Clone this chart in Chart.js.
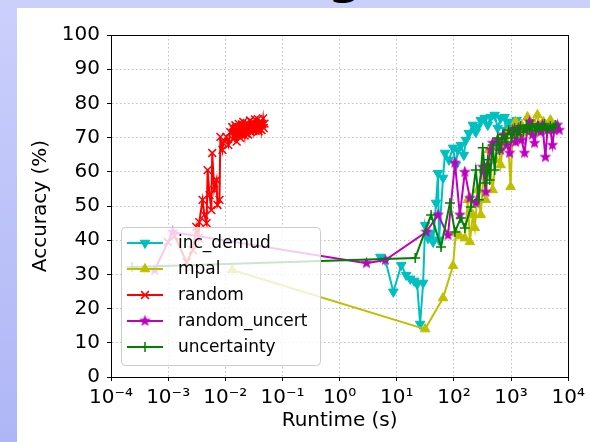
<!DOCTYPE html>
<html>
<head>
<meta charset="utf-8">
<title>Accuracy vs Runtime</title>
<script src="https://cdn.jsdelivr.net/npm/chart.js@4.4.1/dist/chart.umd.min.js"></script>
<style>
    html, body { margin: 0; padding: 0; }
    body {
        width: 590px;
        height: 442px;
        overflow: hidden;
        position: relative;
        background: linear-gradient(to bottom, #cbd0fb, #aeb6f6);
        font-family: 'DejaVu Sans', sans-serif;
    }
    #panel { position: absolute; left: 17px; top: 8px; right: 0; bottom: 0; background: #fff; }
    #slideTitle {
        position: absolute; left: 328px; top: -48px;
        font-size: 48px; line-height: 1; font-weight: bold; color: #000;
    }
    #chart { position: absolute; left: 0; top: 0; }
</style>
</head>
<body>
<div id="slideTitle">g</div>
<div id="panel"></div>
<canvas id="chart" width="590" height="442"></canvas>
<script>
// Eixos
const xTickValues = [1e-4, 1e-3, 1e-2, 1e-1, 1, 10, 100, 1000, 10000];
const xTickLabels = ['10⁻⁴', '10⁻³', '10⁻²', '10⁻¹', '10⁰', '10¹', '10²', '10³', '10⁴'];
const seriesNames = ['inc_demud', 'mpal', 'random', 'random_uncert', 'uncertainty'];

// inc_demud
const incDemudTime = [5.16, 6.3, 8.7, 12.0, 14.6, 17.2, 20.2, 22.7, 25.6, 28.9, 31.3, 35.3, 39.8, 43.2,
    48.6, 52.7, 54.8, 64.4, 69.7, 81.8, 96.2, 108, 117, 132, 149, 162, 182, 214, 241, 261, 295, 346,
    390, 440, 516, 582, 656, 771, 802, 905, 1062, 1247];
const incDemudAcc = [35.1, 34.2, 24.9, 32.7, 29.8, 28.7, 28.1, 27.2, 15.5, 27.5, 44.4, 40.6, 42.1, 39.5,
    50.9, 59.6, 40.1, 58.2, 65.5, 63.5, 67.0, 62.0, 66.4, 67.8, 64.9, 69.3, 71.3, 73.7, 71.6, 73.1, 75.1, 75.7,
    73.7, 76.0, 76.6, 72.8, 75.7, 76.0, 72.2, 74.6, 73.7, 75.1];

// mpal
const mpalTime = [0.0132, 31.3, 64.4, 96.2, 108, 127, 155, 175, 190, 214, 232, 261, 295, 333, 361, 406,
    476, 537, 582, 656, 741, 869, 980, 1062, 1197, 1350, 1523, 1718, 1936, 2183, 2462, 2890, 3258,
    3673, 4314, 4864, 5714];
const mpalAcc = [31.3, 14.0, 23.1, 32.5, 42.1, 41.2, 40.6, 51.8, 39.5, 47.4, 43.6, 54.7, 47.4, 60.5, 51.8, 66.4,
    54.7, 63.5, 69.3, 62.0, 69.3, 71.6, 55.6, 72.2, 74.6, 70.8, 73.7, 71.6, 76.0, 72.2, 74.0, 76.6, 72.8,
    74.6, 73.7, 75.1, 73.1];

// random
const randomTime = [9.8e-4, 1.3e-3, 2.1e-3, 2.7e-3, 3.1e-3, 3.4e-3, 3.5e-3, 4.0e-3, 4.3e-3, 4.7e-3,
    4.9e-3, 5.3e-3, 5.7e-3, 5.9e-3, 6.4e-3, 7.0e-3, 7.3e-3, 7.9e-3, 8.2e-3, 8.9e-3, 9.2e-3, 0.0104,
    0.0113, 0.0122, 0.0132, 0.0136, 0.0141, 0.0145, 0.0150, 0.0154, 0.0158, 0.0163, 0.0168, 0.0172,
    0.0177, 0.0181, 0.0186, 0.0191, 0.0196, 0.0201, 0.0206, 0.0212, 0.0218, 0.0224, 0.0230, 0.0236,
    0.0243, 0.0250, 0.0257, 0.0264, 0.0271, 0.0279, 0.0287, 0.0295, 0.0303, 0.0312, 0.0321, 0.0330,
    0.0340, 0.0350, 0.0360, 0.0371, 0.0382, 0.0393, 0.0405, 0.0417, 0.0430, 0.0443, 0.0457, 0.0471, 0.0485];
const randomAcc = [39.5, 41.2, 33.6, 37.1, 43.9, 40.6, 45.3, 51.8, 47.4, 45.0,
    60.5, 53.2, 48.8, 65.5, 54.7, 57.6, 50.3, 51.8, 70.2, 66.4, 68.4, 70.2,
    67.8, 71.6, 73.1, 69.5, 72.4, 70.1, 73.6, 71.0, 68.8, 72.9, 70.5, 74.0,
    71.8, 69.9, 72.5, 70.8, 73.9, 71.4, 74.6, 72.0, 70.6, 73.4, 71.2, 74.3,
    72.6, 70.9, 73.8, 72.1, 75.0, 71.7, 73.5, 72.3, 74.4, 71.9, 73.2, 75.3,
    72.0, 74.0, 72.7, 75.4, 71.8, 73.6, 72.5, 74.8, 72.2, 73.9, 75.6, 72.8, 74.1];

// random_uncert
const randUncertTime = [5.8e-4, 1.2e-3, 2.95, 6.3, 32.6, 52.7, 78.7, 104, 127, 155, 190, 241, 319, 361,
    390, 440, 476, 582, 656, 741, 836, 942, 1062, 1197, 1350, 1523, 1718, 1936, 2099, 2366, 2566,
    2890, 3258, 3532, 3981, 4314, 4864, 5272, 5714, 6442, 6970];
const randUncertAcc = [31.3, 42.4, 33.3, 34.2, 42.4, 47.4, 41.5, 62.6, 47.4, 59.9, 52.3, 50.9, 61.4, 54.1,
    62.0, 66.4, 68.4, 69.3, 66.4, 70.8, 67.8, 65.5, 72.2, 68.7, 72.8, 69.3, 65.5, 72.8, 74.6, 70.8, 68.4,
    73.4, 71.6, 73.7, 64.3, 72.2, 72.8, 67.8, 72.2, 73.7, 72.2];

// uncertainty
const uncertTime = [2.32e-4, 21, 39.8, 59.4, 85.1, 104, 132, 155, 198, 241, 272, 319, 361, 390, 423,
    476, 516, 582, 631, 711, 802, 905, 1021, 1151, 1297, 1462, 1648, 1862, 2099, 2366, 2668, 3007,
    3390, 3828, 4314, 4864, 5483, 5940];
const uncertAcc = [32.2, 34.8, 47.4, 38.0, 50.9, 42.4, 46.5, 43.6, 49.7, 60.5, 51.8, 67.0, 56.7, 63.5, 57.6,
    67.8, 60.5, 69.9, 66.4, 70.8, 68.7, 72.2, 69.9, 72.8, 70.8, 73.4, 71.6, 73.7, 72.2, 74.0, 71.9, 73.4,
    72.5, 74.0, 72.2, 73.4, 72.8, 73.7];

const FONT = "'DejaVu Sans', sans-serif";

document.addEventListener('DOMContentLoaded', function() {
    initRuntimeChart();
});

/**
 * Estrela cheia (marcador '*' do matplotlib)
 */
function makeStar(color, size) {
    const c = document.createElement('canvas');
    c.width = size;
    c.height = size;
    const g = c.getContext('2d');
    const r = size / 2;
    g.beginPath();
    for (let k = 0; k < 10; k++) {
        const rad = k % 2 ? r * 0.42 : r - 0.3;
        const a = -Math.PI / 2 + k * Math.PI / 5;
        g.lineTo(r + rad * Math.cos(a), r + rad * Math.sin(a));
    }
    g.closePath();
    g.fillStyle = color;
    g.fill();
    return c;
}

function pairs(times, accs) {
    return times.map((t, i) => ({ x: t, y: accs[i] }));
}

function drawMarker(ctx, ds, x, y) {
    const r = ds.pointRadius;
    ctx.save();
    ctx.translate(x, y);
    ctx.strokeStyle = ds.borderColor;
    ctx.fillStyle = ds.backgroundColor;
    ctx.lineWidth = ds.pointBorderWidth;
    if (ds.pointStyle instanceof HTMLCanvasElement) {
        ctx.drawImage(ds.pointStyle, -ds.pointStyle.width / 2, -ds.pointStyle.height / 2);
    } else if (ds.pointStyle === 'triangle') {
        ctx.rotate((ds.pointRotation || 0) * Math.PI / 180);
        ctx.beginPath();
        for (let k = 0; k < 3; k++) {
            const a = k * 2 * Math.PI / 3;
            ctx.lineTo(Math.sin(a) * r, -Math.cos(a) * r);
        }
        ctx.closePath();
        ctx.fill();
        ctx.stroke();
    } else {
        ctx.beginPath();
        if (ds.pointStyle === 'crossRot') {
            const d = r * Math.SQRT1_2;
            ctx.moveTo(-d, -d); ctx.lineTo(d, d);
            ctx.moveTo(-d, d); ctx.lineTo(d, -d);
        } else {
            ctx.moveTo(-r, 0); ctx.lineTo(r, 0);
            ctx.moveTo(0, -r); ctx.lineTo(0, r);
        }
        ctx.stroke();
    }
    ctx.restore();
}

// moldura + legenda no canto inferior esquerdo
const frameLegendPlugin = {
    id: 'frameLegend',
    afterDatasetsDraw(chart) {
        const ctx = chart.ctx;
        const a = chart.chartArea;
        ctx.save();
        ctx.strokeStyle = '#000';
        ctx.lineWidth = 1;
        ctx.strokeRect(Math.round(a.left) + 0.5, Math.round(a.top) + 0.5,
            Math.round(a.right - a.left), Math.round(a.bottom - a.top));

        const bx = 121.5, by = 227.5, bw = 199, bh = 138, rr = 4;
        ctx.beginPath();
        ctx.moveTo(bx + rr, by);
        ctx.arcTo(bx + bw, by, bx + bw, by + bh, rr);
        ctx.arcTo(bx + bw, by + bh, bx, by + bh, rr);
        ctx.arcTo(bx, by + bh, bx, by, rr);
        ctx.arcTo(bx, by, bx + bw, by, rr);
        ctx.closePath();
        ctx.fillStyle = 'rgba(255,255,255,0.8)';
        ctx.fill();
        ctx.strokeStyle = '#cccccc';
        ctx.stroke();

        chart.data.datasets.forEach(function(ds, i) {
            const y = 243 + i * 26;
            ctx.strokeStyle = ds.borderColor;
            ctx.lineWidth = ds.borderWidth;
            ctx.beginPath();
            ctx.moveTo(127, y);
            ctx.lineTo(163, y);
            ctx.stroke();
            drawMarker(ctx, ds, 145, y);
            ctx.fillStyle = '#000';
            ctx.font = '17px ' + FONT;
            ctx.textBaseline = 'middle';
            ctx.textAlign = 'left';
            ctx.fillText(ds.label, 178, y + 1);
        });
        ctx.restore();
    }
};

function initRuntimeChart() {
    const ctx = document.getElementById('chart');
    const gridOpts = {
        color: '#b0b0b0',
        lineWidth: 0.8,
        tickLength: 4,
        tickColor: '#000',
        tickWidth: 1,
        tickBorderDash: []
    };

    new Chart(ctx, {
        type: 'scatter',
        data: {
            datasets: [{
                label: seriesNames[0],
                data: pairs(incDemudTime, incDemudAcc),
                borderColor: '#00bfbf',
                backgroundColor: '#00bfbf',
                pointStyle: 'triangle',
                pointRotation: 180,
                pointRadius: 5.5,
                pointBorderWidth: 1,
                order: 5
            }, {
                label: seriesNames[1],
                data: pairs(mpalTime, mpalAcc),
                borderColor: '#bfbf00',
                backgroundColor: '#bfbf00',
                pointStyle: 'triangle',
                pointRadius: 5.5,
                pointBorderWidth: 1,
                order: 4
            }, {
                label: seriesNames[2],
                data: pairs(randomTime, randomAcc),
                borderColor: '#ff0000',
                backgroundColor: '#ff0000',
                pointStyle: 'crossRot',
                pointRadius: 5.5,
                pointBorderWidth: 1.5,
                order: 3
            }, {
                label: seriesNames[3],
                data: pairs(randUncertTime, randUncertAcc),
                borderColor: '#bf00bf',
                backgroundColor: '#bf00bf',
                pointStyle: makeStar('#bf00bf', 13),
                pointRadius: 6,
                pointBorderWidth: 1,
                order: 2
            }, {
                label: seriesNames[4],
                data: pairs(uncertTime, uncertAcc),
                borderColor: '#008000',
                backgroundColor: '#008000',
                pointStyle: 'cross',
                pointRadius: 5,
                pointBorderWidth: 1.5,
                order: 1
            }].map(ds => Object.assign(ds, { showLine: true, borderWidth: 2, pointHoverRadius: ds.pointRadius }))
        },
        options: {
            responsive: false,
            animation: false,
            devicePixelRatio: 1,
            layout: { padding: { left: 0, right: 19, top: 35, bottom: 0 } },
            plugins: {
                legend: { display: false },
                tooltip: { enabled: false }
            },
            scales: {
                x: {
                    type: 'logarithmic',
                    min: 1e-4,
                    max: 1e4,
                    afterBuildTicks: s => { s.ticks = xTickValues.map(v => ({ value: v, major: true })); },
                    afterFit: s => { s.height = 65; },
                    ticks: {
                        autoSkip: false,
                        maxRotation: 0,
                        padding: 5,
                        color: '#000',
                        font: { size: 20, family: FONT },
                        callback: (v, i) => xTickLabels[i]
                    },
                    grid: gridOpts,
                    border: { display: true, color: '#000', width: 1, dash: [1.5, 2.5] },
                    title: {
                        display: true,
                        text: 'Runtime (s)',
                        color: '#000',
                        font: { size: 20, family: FONT },
                        padding: { top: 0, bottom: 9 }
                    }
                },
                y: {
                    min: 0,
                    max: 100,
                    afterFit: s => { s.width = 111; },
                    ticks: {
                        stepSize: 10,
                        padding: 7,
                        color: '#000',
                        font: { size: 20, family: FONT }
                    },
                    grid: gridOpts,
                    border: { display: true, color: '#000', width: 1, dash: [1.5, 2.5] },
                    title: {
                        display: true,
                        text: 'Accuracy (%)',
                        color: '#000',
                        font: { size: 20, family: FONT },
                        padding: { top: 29, bottom: 0 }
                    }
                }
            }
        },
        plugins: [frameLegendPlugin]
    });
}
</script>
</body>
</html>
